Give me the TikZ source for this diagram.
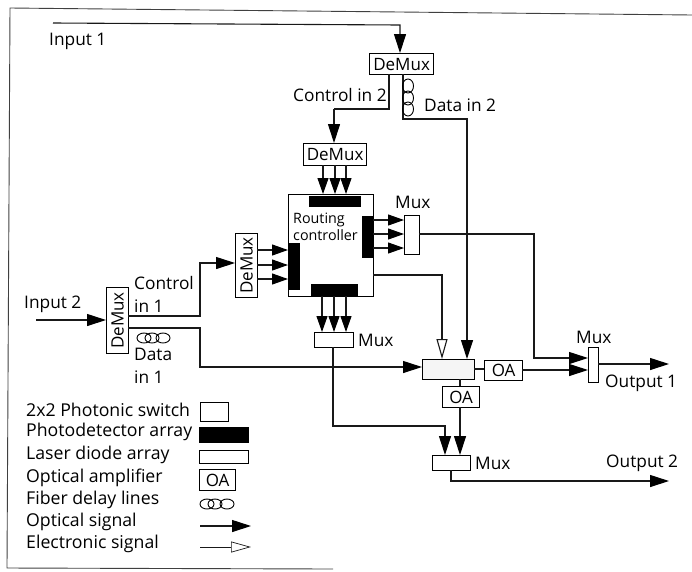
\documentclass[tikz,border=0pt]{standalone}
\usepackage{fontspec}
\setmainfont{Open Sans}
\usetikzlibrary{arrows.meta}
\tikzset{
  px/.style={x=1pt,y=-1pt},
  wire/.style={draw=black!90,line width=1.1pt},
  opt/.style={wire,-{Triangle[length=19pt,width=12pt,black]}},
  optb/.style={wire,-{Triangle[length=16pt,width=11pt,black]}},
  ele/.style={wire,-{Triangle[open,length=20pt,width=11pt,fill=white]}},
  boxn/.style={draw=black,line width=1.2pt,fill=white,inner sep=0pt,anchor=north west,font=\fontsize{17}{17}\selectfont},
  pd/.style={draw=black,fill=black,inner sep=0pt,anchor=north west},
  lab/.style={inner sep=0pt,font=\fontsize{17.3}{23}\selectfont,anchor=west,align=left},
  leg/.style={lab,font=\fontsize{17.7}{22}\selectfont},
  coil/.style={draw=black,line width=.9pt,fill=none},
}
\newcommand{\bx}[6]{\node[#1,minimum width=#4pt,minimum height=#5pt] (#2) at #3 {#6};}
\begin{document}
\begin{tikzpicture}[px]
\useasboundingbox (0,0) rectangle (692,571);
\draw[black!75,line width=.9pt] (692,15) -- (10,8) -- (7,568) -- (333,569);
% boxes
\bx{boxn}{dmTop}{(369,53)}{64}{21}{DeMux}
\bx{boxn}{dmCtl}{(303,143)}{63}{22}{DeMux}
\bx{boxn}{rc}{(288,194)}{85}{102}{}
\bx{boxn}{dmLeft}{(235,233)}{22}{64}{\rotatebox{90}{DeMux}}
\bx{boxn}{dmIn}{(106,287)}{22}{66}{\rotatebox{90}{DeMux}}
\bx{pd}{pdTop}{(309,196)}{51}{10}{}
\bx{pd}{pdRight}{(362,216)}{11}{41}{}
\bx{pd}{pdLeft}{(288,243)}{11}{46}{}
\bx{pd}{pdBot}{(311,284)}{46}{12}{}
\bx{boxn}{muxR}{(404,215)}{15}{39}{}
\bx{boxn}{muxM}{(314,332)}{39}{15}{}
\bx{boxn}{muxL}{(432,455)}{38}{15}{}
\bx{boxn}{muxO}{(588,347)}{10}{35}{}
\node[boxn,fill=black!4,minimum width=52pt,minimum height=20pt] (sw) at (422,359) {};
\bx{boxn}{oaR}{(484,360)}{38}{20}{OA}
\bx{boxn}{oaD}{(442,386)}{37}{21}{OA}
% coordinates
\coordinate (in1) at (53,23);
\coordinate (in2) at (36,320);
\coordinate (o1) at (669,364);
\coordinate (o2) at (669,481);
% wires
\draw[opt] (in1) -- (400,25) -- (400,53);
\draw[wire] (389,74) |- (334,109);
\draw[opt] (334,109) -- (334,143);
\draw[opt] (403,74) |- (467,119) -- (467,359);
\foreach \x in {323,335,346} \draw[optb] (\x,165) -- (\x,194);
\foreach \y in {220,234,248} \draw[optb] (373,\y) -- (404,\y);
\foreach \y in {250,265,279} \draw[optb] (257,\y) -- (288,\y);
\foreach \x in {322,334,346} \draw[optb] (\x,296) -- (\x,332);
\draw[opt] (in2) -- (106,320);
\draw[opt] (128,316) -| (200,263) -- (235,263);
\draw[opt] (128,328) -| (200,367) -- (422,367);
\draw[ele] (373,275) -| (442,359);
\draw[opt] (419,234) -| (534,358) -- (588,358);
\draw[opt] (522,370) -- (588,370);
\draw[wire] (474,369) -- (484,369);
\draw[wire] (460,379) -- (460,386);
\draw[opt] (460,407) -- (460,455);
\draw[opt] (333,347) |- (445,426) -- (445,455);
\draw[opt] (598,364) -- (o1);
\draw[opt] (451,470) |- (o2);
% coils
\foreach \y in {86,98,109} \draw[coil] (408,\y) ellipse (5.5pt and 7pt);
\foreach \x in {144,152,163} \draw[coil] (\x,338) ellipse (7pt and 5pt);
% labels
\node[lab] (t1) at (49,41) {Input 1};
\node[lab] (t2) at (24,304) {Input 2};
\node[lab] (t3) at (293,95) {Control in 2};
\node[lab] (t4) at (424,105) {Data in 2};
\node[lab,font=\fontsize{14.3}{17}\selectfont] (t5) at (293,227) {Routing\\controller};
\node[lab] (t6) at (395,202) {Mux};
\node[lab] (t7) at (134,294) {Control\\in 1};
\node[lab] (t8) at (134,366) {Data\\in 1};
\node[lab] at (358,340) (t9) {Mux};
\node[lab] at (576,337) (t10) {Mux};
\node[lab] at (605,383) (t11) {Output 1};
\node[lab] at (475,463) (t12) {Mux};
\node[lab] at (606,463) (t13) {Output 2};
% legend
\node[leg] (l1) at (26,410) {2x2 Photonic switch};
\node[leg] (l2) at (26,432) {Photodetector array};
\node[leg] (l3) at (26,455) {Laser diode array};
\node[leg] (l4) at (26,478) {Optical amplifier};
\node[leg] (l5) at (26,500) {Fiber delay lines};
\node[leg] (l6) at (26,522) {Optical signal};
\node[leg] (l7) at (26,544) {Electronic signal};
\bx{boxn}{ls1}{(200,402)}{28}{19}{}
\bx{pd}{ls2}{(199,427)}{49}{15}{}
\bx{boxn}{ls3}{(199,450)}{49}{13}{}
\bx{boxn}{ls4}{(199,469)}{36}{21}{OA}
\foreach \x in {207,215,227} \draw[coil] (\x,504) ellipse (7pt and 5pt);
\coordinate (a1) at (200,526); \coordinate (a2) at (251,526);
\coordinate (b1) at (200,547); \coordinate (b2) at (251,547);
\draw[opt] (a1) -- (a2);
\draw[ele,line width=.7pt] (b1) -- (b2);
\end{tikzpicture}
\end{document}
